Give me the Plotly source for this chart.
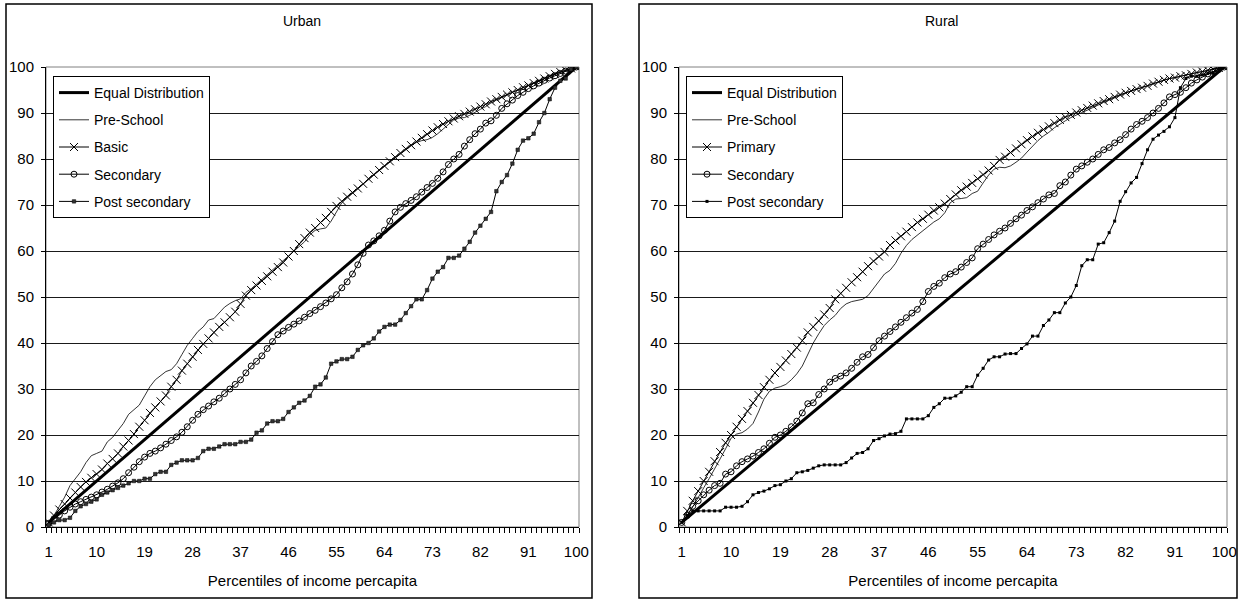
import plotly.graph_objects as go

# ---------------- data ----------------
percentiles = [1, 2, 3, 4, 5, 6, 7, 8, 9, 10, 11, 12, 13, 14, 15, 16, 17, 18, 19, 20,
               21, 22, 23, 24, 25, 26, 27, 28, 29, 30, 31, 32, 33, 34, 35, 36, 37, 38, 39, 40,
               41, 42, 43, 44, 45, 46, 47, 48, 49, 50, 51, 52, 53, 54, 55, 56, 57, 58, 59, 60,
               61, 62, 63, 64, 65, 66, 67, 68, 69, 70, 71, 72, 73, 74, 75, 76, 77, 78, 79, 80,
               81, 82, 83, 84, 85, 86, 87, 88, 89, 90, 91, 92, 93, 94, 95, 96, 97, 98, 99, 100]

tick_labels = ["1", "10", "19", "28", "37", "46", "55", "64", "73", "82", "91", "100"]

equal_distribution = [1, 2, 3, 4, 5, 6, 7, 8, 9, 10, 11, 12, 13, 14, 15, 16, 17, 18, 19, 20,
                      21, 22, 23, 24, 25, 26, 27, 28, 29, 30, 31, 32, 33, 34, 35, 36, 37, 38, 39, 40,
                      41, 42, 43, 44, 45, 46, 47, 48, 49, 50, 51, 52, 53, 54, 55, 56, 57, 58, 59, 60,
                      61, 62, 63, 64, 65, 66, 67, 68, 69, 70, 71, 72, 73, 74, 75, 76, 77, 78, 79, 80,
                      81, 82, 83, 84, 85, 86, 87, 88, 89, 90, 91, 92, 93, 94, 95, 96, 97, 98, 99, 100]

# Urban
urban_preschool = [1.0, 2.5, 4.5, 6.5, 9.0, 10.5, 12.0, 14.0, 15.5, 16.0,
                   16.5, 18.5, 19.5, 21.0, 22.5, 24.5, 25.5, 26.5, 28.5, 30.5,
                   32.0, 33.0, 33.8, 34.2, 35.5, 37.5, 39.5, 41.0, 42.5, 43.5,
                   45.0, 45.3, 46.5, 47.8, 48.6, 49.2, 49.6, 51.0, 51.8, 52.8,
                   53.8, 54.8, 55.8, 56.8, 57.8, 58.8, 59.8, 60.8, 62.0, 63.5,
                   64.5, 64.8, 65.0, 66.5, 68.5, 70.5, 71.5, 72.5, 73.5, 74.5,
                   75.5, 76.5, 77.5, 78.5, 79.5, 80.3, 81.3, 82.2, 83.0, 83.6,
                   84.0, 84.2, 84.7, 85.5, 86.5, 87.5, 88.5, 88.9, 89.0, 89.5,
                   90.2, 90.8, 91.4, 92.2, 92.8, 93.4, 94.0, 94.5, 95.0, 95.5,
                   96.0, 96.5, 97.0, 97.5, 98.0, 98.5, 98.9, 99.3, 99.7, 100.0]

urban_basic = [1.0, 2.5, 3.8, 5.0, 6.3, 7.5, 8.7, 9.8, 10.7, 11.5,
               12.5, 13.8, 14.8, 16.0, 17.5, 18.8, 20.2, 21.8, 23.2, 24.8,
               26.0, 27.3, 28.6, 30.5, 32.0, 34.0, 35.5, 37.0, 38.5, 39.8,
               41.0, 42.3, 43.5, 44.5, 45.6, 46.8, 48.5, 50.3, 51.5, 52.5,
               53.5, 54.5, 55.5, 56.5, 57.5, 58.8, 60.0, 61.5, 62.8, 64.0,
               65.0, 66.2, 67.2, 68.5, 69.8, 70.8, 71.8, 72.7, 73.6, 74.6,
               75.7, 76.6, 77.6, 78.5, 79.5, 80.4, 81.3, 82.2, 83.0, 83.8,
               84.6, 85.4, 86.2, 86.9, 87.6, 88.2, 88.8, 89.3, 89.8, 90.3,
               90.8, 91.4, 91.9, 92.5, 93.0, 93.5, 94.0, 94.5, 95.0, 95.6,
               96.0, 96.5, 97.0, 97.5, 98.0, 98.5, 98.9, 99.3, 99.7, 100.0]

urban_secondary = [0.8, 1.8, 2.6, 3.5, 4.3, 5.0, 5.5, 6.0, 6.5, 7.0,
                   7.6, 8.2, 8.9, 9.6, 10.5, 11.8, 13.0, 14.2, 15.2, 16.0,
                   16.5, 17.2, 18.0, 18.8, 19.6, 20.6, 21.8, 23.2, 24.5, 25.5,
                   26.3, 27.2, 28.0, 29.0, 30.0, 31.0, 32.0, 33.5, 35.0, 36.0,
                   37.2, 38.8, 40.3, 41.8, 42.6, 43.4, 44.1, 44.8, 45.6, 46.4,
                   47.1, 47.9, 48.7, 49.6, 50.5, 52.0, 53.3, 55.0, 57.0, 59.5,
                   61.3, 62.2, 63.3, 64.5, 66.5, 68.5, 69.5, 70.3, 71.0, 71.8,
                   72.8, 73.8, 74.7, 75.8, 77.2, 78.8, 80.0, 81.0, 82.8, 84.2,
                   85.5, 86.5, 87.8, 88.3, 89.5, 91.0, 92.0, 92.8, 93.8, 94.5,
                   95.3, 95.9, 96.5, 97.1, 97.6, 98.1, 98.6, 99.1, 99.6, 100.0]

urban_post_secondary = [0.5, 1.0, 1.5, 1.5, 2.0, 3.5, 4.5, 5.0, 5.5, 6.0,
                        7.0, 7.5, 8.0, 8.5, 9.0, 9.5, 10.0, 10.0, 10.5, 10.5,
                        11.5, 12.0, 12.0, 13.5, 14.0, 14.5, 14.5, 14.5, 15.0, 16.5,
                        17.0, 17.0, 17.5, 18.0, 18.0, 18.0, 18.5, 18.5, 19.0, 20.5,
                        21.0, 22.5, 23.0, 23.0, 23.5, 25.0, 26.0, 27.0, 27.5, 28.5,
                        30.5, 31.0, 32.5, 35.5, 36.0, 36.5, 36.5, 37.0, 38.5, 39.5,
                        40.0, 41.0, 42.5, 43.5, 44.0, 44.0, 45.0, 46.5, 48.0, 49.5,
                        49.5, 51.5, 54.0, 55.5, 56.5, 58.5, 58.5, 59.0, 60.5, 62.0,
                        64.0, 65.5, 67.0, 68.5, 73.0, 75.0, 76.5, 79.0, 82.0, 84.0,
                        84.5, 85.5, 88.0, 90.0, 93.0, 95.5, 97.0, 97.5, 99.5, 100.0]

# Rural
rural_preschool = [1.0, 2.5, 4.3, 6.5, 8.5, 10.5, 12.8, 14.8, 17.0, 19.3,
                   20.2, 20.5, 21.3, 22.5, 25.0, 27.8, 29.5, 30.2, 30.5, 31.0,
                   32.0, 33.3, 35.0, 37.5, 40.0, 42.0, 43.8, 45.0, 46.0, 47.5,
                   48.5, 49.0, 49.2, 49.5, 50.3, 51.8, 53.5, 55.0, 55.8, 57.3,
                   59.5, 61.2, 62.5, 63.5, 64.5, 65.5, 66.3, 67.0, 68.3, 70.5,
                   71.3, 71.4, 71.6, 72.5, 73.0, 74.8, 76.5, 77.8, 78.2, 78.1,
                   78.5, 79.3, 80.2, 81.5, 82.8, 84.0, 85.0, 85.8, 86.8, 87.6,
                   88.3, 89.0, 89.6, 90.1, 90.6, 91.2, 91.7, 92.3, 92.8, 93.3,
                   93.9, 94.4, 94.8, 95.2, 95.5, 95.9, 96.4, 96.8, 97.2, 97.5,
                   97.7, 98.0, 98.2, 98.5, 98.8, 99.0, 99.3, 99.5, 99.8, 100.0]

rural_primary = [1.0, 3.5, 5.7, 7.8, 10.0, 12.0, 14.3, 16.3, 18.3, 20.0,
                 21.8, 23.5, 25.2, 27.0, 28.7, 30.4, 32.0, 33.5, 34.8, 36.2,
                 37.6, 39.0, 40.5, 42.3, 43.5, 44.8, 46.2, 47.6, 49.5, 50.8,
                 52.0, 53.2, 54.3, 55.5, 56.7, 57.8, 58.8, 59.8, 61.3, 62.3,
                 63.2, 64.2, 65.2, 66.2, 67.0, 67.9, 68.8, 69.5, 70.3, 71.3,
                 72.3, 73.2, 74.0, 74.8, 75.7, 76.6, 77.5, 78.5, 79.8, 80.5,
                 81.4, 82.3, 83.2, 84.1, 84.9, 85.7, 86.4, 87.1, 87.8, 88.5,
                 89.1, 89.6, 90.1, 90.6, 91.1, 91.6, 92.1, 92.6, 93.0, 93.5,
                 94.0, 94.4, 94.8, 95.2, 95.5, 95.9, 96.4, 96.8, 97.2, 97.5,
                 97.7, 98.0, 98.2, 98.5, 98.8, 99.0, 99.3, 99.5, 99.8, 100.0]

rural_secondary = [1.0, 2.5, 4.5, 5.7, 7.0, 8.0, 9.0, 9.5, 11.5, 12.0,
                   13.3, 14.2, 14.8, 15.4, 16.2, 17.0, 18.2, 19.5, 20.0, 20.8,
                   21.8, 23.0, 24.8, 26.8, 27.0, 28.8, 30.0, 31.5, 32.3, 32.8,
                   33.5, 34.5, 35.8, 37.0, 37.5, 39.0, 40.5, 41.5, 42.5, 43.5,
                   44.5, 45.5, 46.5, 47.3, 49.0, 51.2, 52.3, 53.0, 54.2, 55.0,
                   55.5, 56.5, 57.5, 58.5, 60.5, 61.5, 62.5, 63.5, 64.3, 65.0,
                   66.0, 67.0, 67.8, 68.8, 69.6, 70.5, 71.3, 72.2, 72.5, 74.2,
                   75.0, 76.5, 77.8, 78.5, 79.3, 80.0, 81.0, 82.0, 82.5, 83.5,
                   84.2, 85.3, 86.5, 87.5, 88.2, 89.0, 90.0, 91.0, 92.2, 93.5,
                   94.0, 94.5, 95.5, 96.5, 97.2, 97.8, 98.5, 99.0, 99.5, 100.0]

rural_post_secondary = [1.0, 2.5, 3.5, 3.5, 3.5, 3.5, 3.5, 3.5, 4.3, 4.3,
                        4.3, 4.5, 5.5, 7.0, 7.5, 7.8, 8.3, 9.0, 9.2, 10.0,
                        10.5, 11.8, 12.0, 12.3, 12.8, 13.3, 13.5, 13.5, 13.5, 13.5,
                        14.0, 15.0, 16.0, 16.2, 17.0, 18.8, 19.2, 19.8, 20.2, 20.3,
                        20.8, 23.5, 23.5, 23.5, 23.5, 24.2, 26.0, 26.8, 28.0, 28.0,
                        28.5, 29.3, 30.5, 30.5, 33.0, 34.5, 36.3, 37.0, 37.0, 37.6,
                        37.7, 37.7, 38.8, 39.8, 41.5, 41.5, 43.8, 45.0, 46.6, 46.6,
                        48.7, 50.0, 52.5, 56.8, 58.1, 58.1, 61.5, 61.8, 64.0, 66.5,
                        70.8, 72.9, 74.8, 76.0, 79.0, 82.0, 84.3, 85.2, 86.0, 87.0,
                        89.0, 95.5, 97.5, 98.0, 98.0, 98.3, 98.6, 98.8, 99.5, 100.0]

urban_names = ["Equal Distribution", "Pre-School", "Basic", "Secondary", "Post secondary"]
rural_names = ["Equal Distribution", "Pre-School", "Primary", "Secondary", "Post secondary"]

# ---------------- figure ----------------
W, H = 1248, 601
FONT = "Liberation Sans, Arial, sans-serif"
BLACK = "#000000"

def px_x(v):
    return v / W

def px_y(v):
    return 1 - v / H

fig = go.Figure()

def add_panel(xa, ya, legend_name, names, series, post_marker):
    styles = [
        dict(mode="lines", line=dict(color=BLACK, width=3)),
        dict(mode="lines", line=dict(color=BLACK, width=0.8)),
        dict(mode="lines+markers", line=dict(color=BLACK, width=1),
             marker=dict(symbol="x-thin", size=8, line=dict(color=BLACK, width=1))),
        dict(mode="lines+markers", line=dict(color=BLACK, width=1),
             marker=dict(symbol="circle-open", size=6, color=BLACK, line=dict(width=1))),
        dict(mode="lines+markers", line=dict(color=BLACK, width=1), marker=post_marker),
    ]
    for i, (nm, ys) in enumerate(zip(names, series)):
        fig.add_trace(go.Scatter(x=percentiles, y=ys, name=nm, xaxis=xa, yaxis=ya,
                                 legend=legend_name, legendgroup=legend_name + str(i),
                                 showlegend=True, **styles[i]))

add_panel("x", "y", "legend", urban_names,
          [equal_distribution, urban_preschool, urban_basic, urban_secondary, urban_post_secondary],
          dict(symbol="square", size=3.5, color="#333333", line=dict(color=BLACK, width=0.5)))
add_panel("x2", "y2", "legend2", rural_names,
          [equal_distribution, rural_preschool, rural_primary, rural_secondary, rural_post_secondary],
          dict(symbol="square", size=3, color=BLACK))

ydom = [px_y(527), px_y(67)]
xdom1 = [px_x(46), px_x(579)]
xdom2 = [px_x(679), px_x(1227)]

xaxis_common = dict(
    range=[0.5, 100.5], tickmode="array",
    tickvals=[int(t) for t in tick_labels], ticktext=tick_labels,
    ticks="", showline=True, linecolor=BLACK, linewidth=1, showgrid=False, zeroline=False,
    automargin=False, ticklabelstandoff=11,
    minor=dict(tick0=0.5, dtick=1, ticks="outside", ticklen=5, tickcolor=BLACK, tickwidth=1, showgrid=False),
    tickfont=dict(family=FONT, size=15, color=BLACK),
    title=dict(text="Percentiles of income percapita", font=dict(family=FONT, size=15, color=BLACK), standoff=16),
)
yaxis_common = dict(
    range=[0, 100], tickmode="linear", tick0=0, dtick=10,
    ticks="outside", ticklen=4, tickcolor=BLACK, showline=True, linecolor=BLACK, linewidth=1,
    showgrid=True, gridcolor="#1a1a1a", gridwidth=1, zeroline=False, automargin=False,
    tickfont=dict(family=FONT, size=15, color=BLACK), ticklabelstandoff=4,
)

fig.update_layout(
    width=W, height=H, margin=dict(l=0, r=0, t=0, b=0, autoexpand=False),
    paper_bgcolor="white", plot_bgcolor="white",
    showlegend=True,
    xaxis=dict(domain=xdom1, anchor="y", **xaxis_common),
    yaxis=dict(domain=ydom, anchor="x", **yaxis_common),
    xaxis2=dict(domain=xdom2, anchor="y2", **xaxis_common),
    yaxis2=dict(domain=ydom, anchor="x2", **yaxis_common),
    legend=dict(x=px_x(53), y=px_y(76), xanchor="left", yanchor="top",
                bgcolor="white", bordercolor=BLACK, borderwidth=1,
                font=dict(family=FONT, size=14, color=BLACK), tracegroupgap=6,
                traceorder="grouped"),
    legend2=dict(x=px_x(686), y=px_y(76), xanchor="left", yanchor="top",
                 bgcolor="white", bordercolor=BLACK, borderwidth=1,
                 font=dict(family=FONT, size=14, color=BLACK), tracegroupgap=6,
                 traceorder="grouped"),
    font=dict(family=FONT, size=14, color=BLACK),
)

# panel titles
fig.add_annotation(text="Urban", x=px_x(302), y=px_y(21), xref="paper", yref="paper",
                   xanchor="center", yanchor="middle", showarrow=False,
                   font=dict(family=FONT, size=14, color=BLACK))
fig.add_annotation(text="Rural", x=px_x(941), y=px_y(21), xref="paper", yref="paper",
                   xanchor="center", yanchor="middle", showarrow=False,
                   font=dict(family=FONT, size=14, color=BLACK))

# plot-area borders (grey) and outer chart frames (black)
for xr, yr in (("x domain", "y domain"), ("x2 domain", "y2 domain")):
    fig.add_shape(type="rect", xref=xr, yref=yr, x0=0, x1=1, y0=0, y1=1,
                  line=dict(color="#808080", width=1), layer="below")
fig.add_shape(type="rect", xref="paper", yref="paper",
              x0=px_x(6), x1=px_x(592), y0=px_y(598), y1=px_y(4),
              line=dict(color=BLACK, width=1.5))
fig.add_shape(type="rect", xref="paper", yref="paper",
              x0=px_x(639), x1=px_x(1237), y0=px_y(598), y1=px_y(4),
              line=dict(color=BLACK, width=1.5))

fig.write_html("out.html", config={"displayModeBar": False},
               post_script="document.body.style.margin='0px';document.body.style.overflow='hidden';")
